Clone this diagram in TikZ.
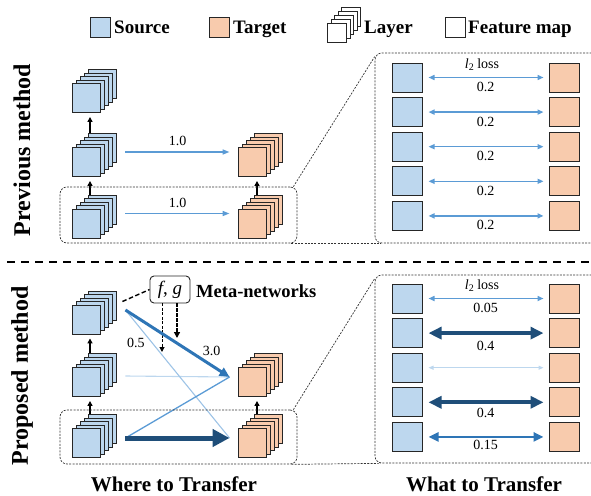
\documentclass[tikz,border=0pt]{standalone}
\usepackage{fontspec}
\setmainfont{Liberation Serif}
\usetikzlibrary{arrows.meta,calc}
\definecolor{srcfill}{HTML}{BDD7EE}
\definecolor{tgtfill}{HTML}{F8CBAD}
\definecolor{cmid}{HTML}{5B9BD5}
\definecolor{cstr}{HTML}{2E75B6}
\definecolor{cdark}{HTML}{1F4E79}
\definecolor{clight}{HTML}{9DC3E6}
\definecolor{cpale}{HTML}{BDD7EE}
\begin{document}
\begin{tikzpicture}[x=1pt,y=-1pt,
  fm/.style={draw=black!85, line width=0.9pt, minimum width=28pt, minimum height=29pt, inner sep=0pt},
  sfm/.style={draw=black!85, line width=0.8pt, minimum width=19pt, minimum height=19pt, inner sep=0pt},
  pfm/.style={draw=black!85, line width=1pt, minimum width=30pt, minimum height=29pt, inner sep=0pt},
  legbox/.style={draw=black!85, line width=0.9pt, minimum width=20pt, minimum height=20pt, inner sep=0pt},
  pics/stack/.style={code={
    \foreach \k in {4,3,2,1}{\node[fm,fill=#1] (-b\k) at (4*\k,-3.5*\k) {};}
    \node[fm,fill=#1] (-f) at (0,0) {};}},
  pics/smallstack/.style={code={
    \foreach \k in {4,3,2,1}{\node[sfm,fill=#1] (-b\k) at (3.5*\k,-4*\k) {};}
    \node[sfm,fill=#1] (-f) at (0,0) {};}},
  legtxt/.style={font=\fontsize{19}{22}\selectfont\bfseries, inner sep=0pt, anchor=base west},
  side/.style={font=\fontsize{24}{28}\selectfont\bfseries, rotate=90, inner sep=0pt},
  bottom/.style={font=\fontsize{21}{25}\selectfont\bfseries, inner sep=0pt, anchor=base},
  lbl/.style={font=\fontsize{14}{16}\selectfont, inner sep=0pt},
  up/.style={-{Triangle[length=5pt,width=5pt]}, line width=1.4pt, black, shorten >=4pt},
  grp/.style={draw=black!80, line width=0.7pt, dash pattern=on 2pt off 1.3pt, rounded corners=7pt, inner sep=0pt},
  dotcon/.style={draw=black!80, line width=0.7pt, dash pattern=on 2pt off 1.3pt},
  wt/.style={shorten <=6pt, shorten >=5pt},
]
\useasboundingbox (0,0) rectangle (591,495);

% legend
\node[legbox, fill=srcfill] (lsrc) at (100.5,27) {};
\node[legtxt] (lsrct) at (114,34) {Source};
\node[legbox, fill=tgtfill] (ltgt) at (219,27) {};
\node[legtxt] (ltgtt) at (233,34) {Target};
\pic (llay) at (337,33) {smallstack=white};
\node[legtxt] (llayt) at (364,34) {Layer};
\node[legbox, fill=white] (lfm) at (455,27) {};
\node[legtxt] (lfmt) at (468,34) {Feature map};

% side labels
\node[side] (prev) at (22,150) {Previous method};
\node[side] (prop) at (22,376) {Proposed method};

% separator
\draw[line width=2pt, dash pattern=on 8pt off 6pt] (7,262) -- (591,262);

% ---------- previous method: where ----------
\pic (a1) at (86,98) {stack=srcfill};
\pic (a2) at (86,162) {stack=srcfill};
\pic (a3) at (86,223.5) {stack=srcfill};
\pic (b2) at (252,162) {stack=tgtfill};
\pic (b3) at (252,223.5) {stack=tgtfill};
\draw[up] ([xshift=4pt,yshift=14pt]a2-f.north) -- ([xshift=4pt]a1-f.south);
\draw[up] ([xshift=4pt,yshift=14pt]a3-f.north) -- ([xshift=4pt]a2-f.south);
\draw[up] ([xshift=5pt,yshift=14pt]b3-f.north) -- ([xshift=5pt]b2-f.south);
\draw[cmid, line width=1.5pt, -{Triangle[length=7pt,width=5pt]}]
  ([xshift=25pt,yshift=10pt]a2-f.east) -- node[lbl, black, midway, yshift=11pt] {1.0} ([xshift=-8pt,yshift=10pt]b2-f.west);
\draw[cmid, line width=1.5pt, -{Triangle[length=7pt,width=5pt]}]
  ([xshift=25pt,yshift=10pt]a3-f.east) -- node[lbl, black, midway, yshift=11pt] {1.0} ([xshift=-8pt,yshift=10pt]b3-f.west);
\node[grp, minimum width=237pt, minimum height=56pt] (g1) at (178.5,215) {};

% ---------- previous method: what ----------
\node[grp, minimum width=250pt, minimum height=190pt] (p1) at (500,148) {};
\draw[dotcon] ([xshift=-4pt]g1.north east) -- ([yshift=-4pt]p1.north west);
\draw[dotcon] ([xshift=-6pt]g1.south east) -- ([xshift=6pt]p1.south west);
\foreach \i in {1,...,5}{
  \node[pfm, fill=srcfill] (s\i) at (407,{77.5+34.6*(\i-1)}) {};
  \node[pfm, fill=tgtfill] (t\i) at (564,{77.5+34.6*(\i-1)}) {};
  \draw[cmid, line width=1.5pt, {Triangle[length=6pt,width=5pt]}-{Triangle[length=6pt,width=5pt]}, wt]
    (s\i.east) -- node[lbl, black, midway, yshift=-9.5pt] {0.2} (t\i.west);
}
\node[lbl] (l2a) at (482,64.5) {\textit{l}\raisebox{-0.35ex}{\fontsize{10}{11}\selectfont 2} loss};

% ---------- proposed method: where ----------
\pic (c1) at (86,319.5) {stack=srcfill};
\pic (c2) at (86,382) {stack=srcfill};
\pic (c3) at (86,443) {stack=srcfill};
\pic (d2) at (252,382) {stack=tgtfill};
\pic (d3) at (252,443) {stack=tgtfill};
\draw[up] ([xshift=4pt,yshift=14pt]c2-f.north) -- ([xshift=4pt]c1-f.south);
\draw[up] ([xshift=4pt,yshift=14pt]c3-f.north) -- ([xshift=4pt]c2-f.south);
\draw[up] ([xshift=5pt,yshift=14pt]d3-f.north) -- ([xshift=5pt]d2-f.south);

\node[draw=black!85, line width=0.9pt, rounded corners=4pt, minimum width=40pt, minimum height=27pt, inner sep=0pt,
  font=\fontsize{19}{22}\selectfont] (fg) at (170,289.5) {\textit{f}, \textit{g}};
\node[font=\fontsize{18.5}{22}\selectfont\bfseries, inner sep=0pt, anchor=west] (meta) at (196,291) {Meta-networks};
\draw[line width=1.4pt, dash pattern=on 4.5pt off 2.5pt] ([shift={(6pt,4pt)}]c1-b4.east) -- (fg.west);
\coordinate (m1) at (162,352);
\coordinate (m2) at (177,338);
\draw[line width=1pt, dash pattern=on 3pt off 1.5pt, -{Triangle[length=5pt,width=5pt]}] ([xshift=-8pt]fg.south) -- (m1);
\draw[line width=1.3pt, dash pattern=on 3.5pt off 1.5pt, -{Triangle[length=6pt,width=6pt]}] ([xshift=7pt]fg.south) -- (m2);

\draw[cpale, line width=1.1pt] ([xshift=25pt,yshift=6pt]c2-f.east) -- ([xshift=-8pt,yshift=5pt]d2-f.west);
\draw[clight, line width=1.1pt] ([xshift=25pt,yshift=9.5pt]c1-f.east) -- node[lbl, black, pos=0.1, yshift=-20.5pt] {0.5} ([xshift=-8pt,yshift=5pt]d3-f.west);
\draw[cmid, line width=1.3pt] ([xshift=25pt,yshift=5pt]c3-f.east) -- ([xshift=-8pt,yshift=5pt]d2-f.west);
\draw[cstr, line width=3pt, -{Triangle[length=10pt,width=9pt]}]
  ([xshift=25pt,yshift=9.5pt]c1-f.east) -- node[lbl, black, pos=0.72, anchor=south west, inner sep=1pt] {3.0} ([xshift=-8pt,yshift=5pt]d2-f.west);
\draw[cdark, line width=5pt, -{Triangle[length=17pt,width=17pt]}]
  ([xshift=25pt,yshift=5pt]c3-f.east) -- ([xshift=-8pt,yshift=5pt]d3-f.west);
\node[grp, minimum width=237pt, minimum height=54pt] (g2) at (178.5,437) {};

% ---------- proposed method: what ----------
\node[grp, minimum width=250pt, minimum height=188pt] (p2) at (500,369) {};
\draw[dotcon] ([xshift=-4pt]g2.north east) -- ([yshift=-4pt]p2.north west);
\draw[dotcon] ([xshift=-6pt]g2.south east) -- ([xshift=6pt]p2.south west);
\foreach \i in {1,...,5}{
  \node[pfm, fill=srcfill] (u\i) at (407,{298.5+34.6*(\i-1)}) {};
  \node[pfm, fill=tgtfill] (v\i) at (564,{298.5+34.6*(\i-1)}) {};
}
\draw[cmid, line width=1.5pt, {Triangle[length=6pt,width=5pt]}-{Triangle[length=6pt,width=5pt]}, wt]
  (u1.east) -- node[lbl, black, midway, yshift=-9.5pt] {0.05} (v1.west);
\draw[cdark, line width=4pt, {Triangle[length=13pt,width=12pt]}-{Triangle[length=13pt,width=12pt]}, wt]
  (u2.east) -- node[lbl, black, midway, yshift=-13pt] {0.4} (v2.west);
\draw[cpale, line width=1.1pt, {Triangle[length=5pt,width=4pt]}-{Triangle[length=5pt,width=4pt]}, wt]
  (u3.east) -- (v3.west);
\draw[cdark, line width=4pt, {Triangle[length=13pt,width=12pt]}-{Triangle[length=13pt,width=12pt]}, wt]
  (u4.east) -- node[lbl, black, midway, yshift=-10.5pt] {0.4} (v4.west);
\draw[cstr, line width=2.5pt, {Triangle[length=10pt,width=9pt]}-{Triangle[length=10pt,width=9pt]}, wt]
  (u5.east) -- node[lbl, black, midway, yshift=-8.5pt] {0.15} (v5.west);
\node[lbl] (l2b) at (482,285.5) {\textit{l}\raisebox{-0.35ex}{\fontsize{10}{11}\selectfont 2} loss};

% bottom labels
\node[bottom] (where) at (174,491) {Where to Transfer};
\node[bottom] (what) at (484,491) {What to Transfer};
\end{tikzpicture}
\end{document}
